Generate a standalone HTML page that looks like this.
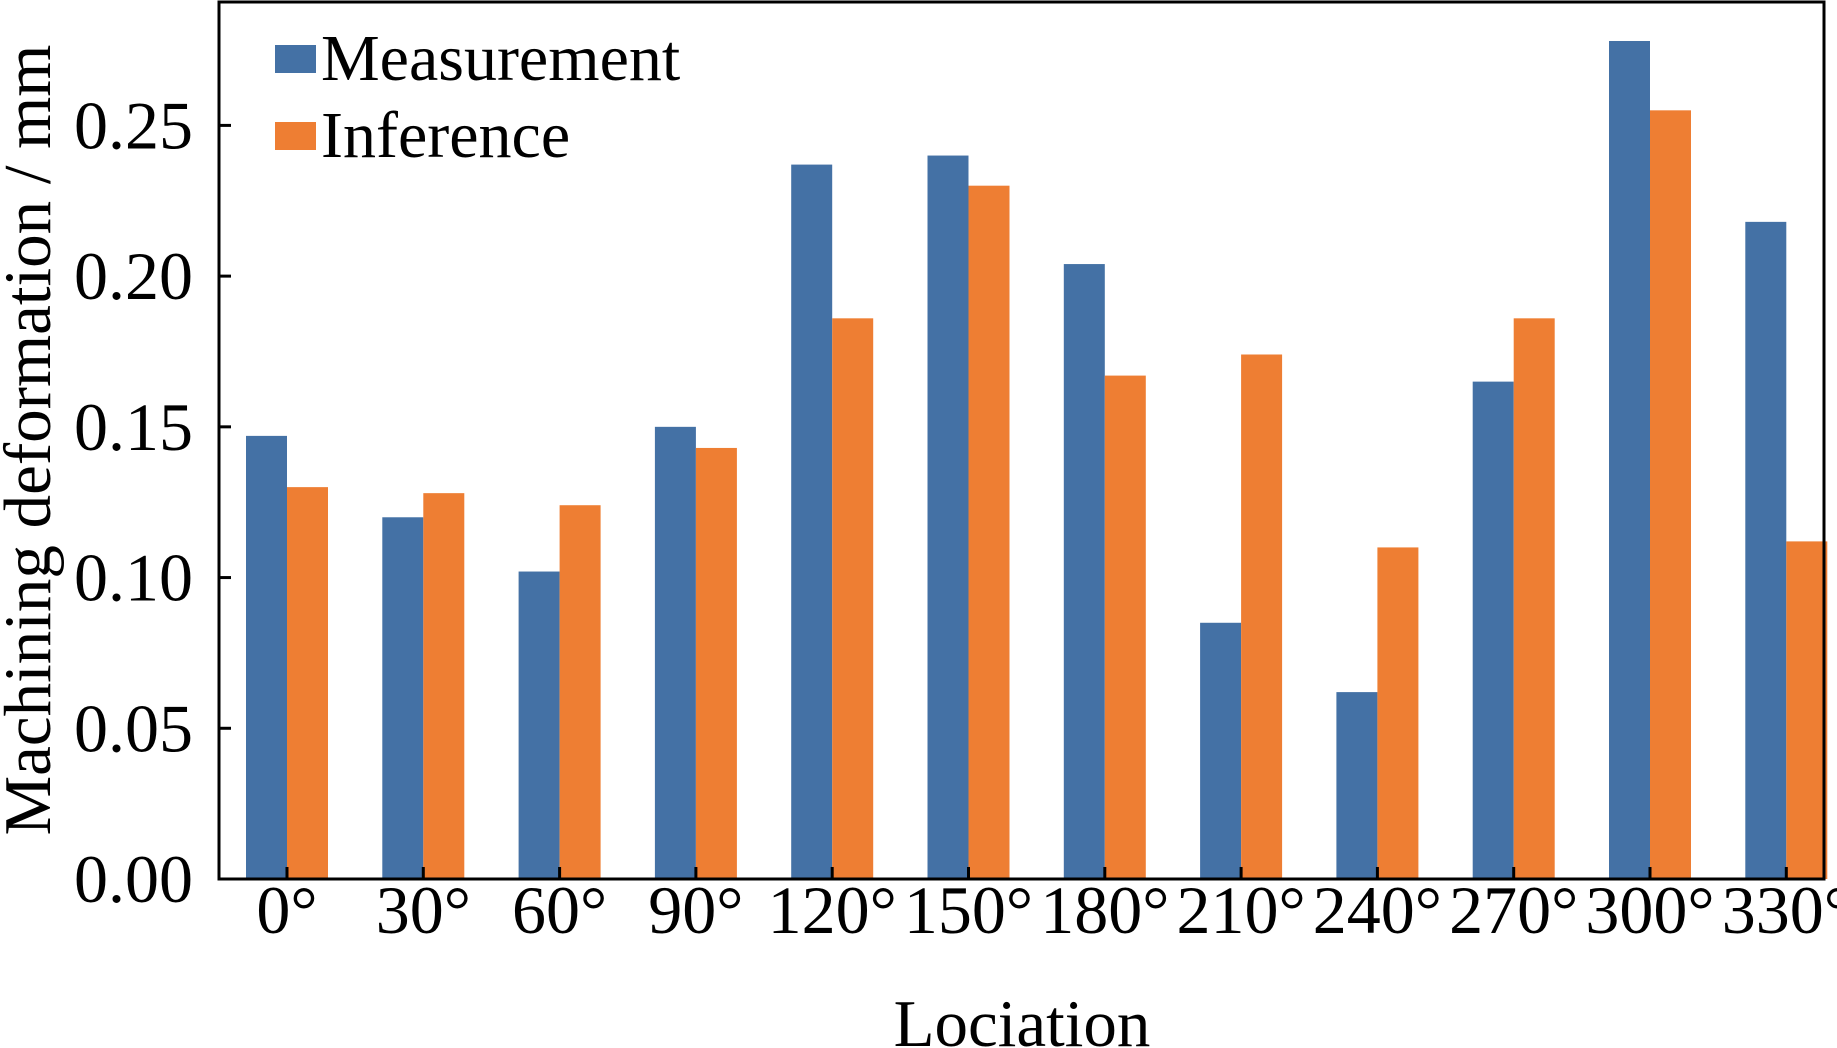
<!DOCTYPE html>
<html><head><meta charset="utf-8"><style>
body{margin:0;background:#fff}
svg{display:block;font-family:"Liberation Serif",serif}
</style></head><body>
<svg id="c" width="1837" height="1048"></svg>
<script>
const categories=["0°","30°","60°","90°","120°","150°","180°","210°","240°","270°","300°","330°"];
const measurement=[0.147,0.120,0.102,0.150,0.237,0.240,0.204,0.085,0.062,0.165,0.278,0.218];
const inference=[0.130,0.128,0.124,0.143,0.186,0.230,0.167,0.174,0.110,0.186,0.255,0.112];
const yTicks=[0,0.05,0.10,0.15,0.20,0.25];
const yTickLabels=["0.00","0.05","0.10","0.15","0.20","0.25"];
const svg=document.getElementById('c');
const NS='http://www.w3.org/2000/svg';
const L=219,R=1824,T=2,B=879;
const y=v=>B-(v/0.25)*(B-125.4);
const x=i=>287+i*136.3;
const bw=41;
function mk(tag,attrs,parent){const e=document.createElementNS(NS,tag);for(const k in attrs)e.setAttribute(k,attrs[k]);(parent||svg).appendChild(e);return e;}
const gB=mk('g',{});


const gO=mk('g',{});


categories.forEach((c,i)=>{
  const b=mk('rect',{x:x(i)-bw,y:y(measurement[i]),width:bw,height:B-y(measurement[i]),fill:'#4471a5'},gB);
  
  
  const o=mk('rect',{x:x(i),y:y(inference[i]),width:bw,height:B-y(inference[i]),fill:'#ee7e33'},gO);
  
  
  const t=mk('line',{x1:x(i),x2:x(i),y1:B,y2:B-12,stroke:'#000','stroke-width':3});
  
  
  const lb=mk('text',{x:x(i),y:933,'text-anchor':'middle','font-size':68});
  lb.textContent=c;
  
  
});
yTicks.forEach((v,i)=>{
  const t=mk('line',{x1:L,x2:L+12,y1:y(v),y2:y(v),stroke:'#000','stroke-width':3});
  
  
  const lb=mk('text',{x:193,y:y(v)+23,'text-anchor':'end','font-size':68});
  lb.textContent=yTickLabels[i];
  
  
});
const frame=mk('rect',{x:L,y:T,width:R-L,height:B-T,fill:'none',stroke:'#000','stroke-width':3});


const yl=mk('text',{transform:'translate(50,440) rotate(-90)','text-anchor':'middle','font-size':67});
yl.textContent='Machining deformation / mm';


const xl=mk('text',{x:1022,y:1046,'text-anchor':'middle','font-size':67});
xl.textContent='Lociation';


[['Measurement','#4471a5',45],['Inference','#ee7e33',122]].forEach(([n,c,yy])=>{
  const g=mk('g',{});
  
  
  mk('rect',{x:275,y:yy,width:41,height:28,fill:c},g);
  const t=mk('text',{x:321,y:yy+35,'font-size':66},g);
  t.textContent=n;
});
</script>
</body></html>
